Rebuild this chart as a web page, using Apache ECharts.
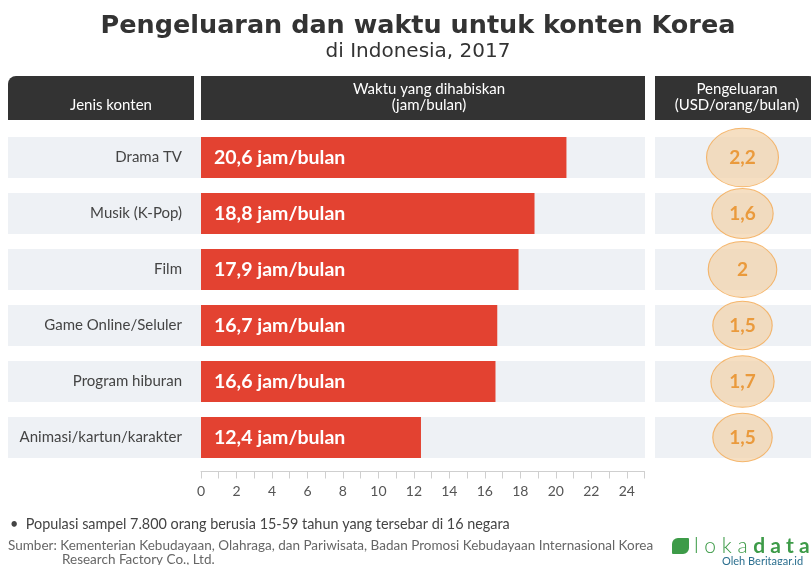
<!DOCTYPE html>
<html lang="id">
  <head>
    <meta charset="UTF-8" />
    <title>Pengeluaran dan waktu untuk konten Korea</title>
    <script src="https://cdn.jsdelivr.net/npm/echarts@6/dist/echarts.min.js"></script>
    <style>
      body {
        margin: 0;
        padding: 0;
        background: #fff;
      }

      #main {
        width: 811px;
        height: 565px;
      }
    </style>
  </head>

  <body>
    <div id="main"></div>
    <script>
      // data
      const categories = [
        "Drama TV",
        "Musik (K-Pop)",
        "Film",
        "Game Online/Seluler",
        "Program hiburan",
        "Animasi/kartun/karakter",
      ];
      const hours = [20.6, 18.8, 17.9, 16.7, 16.6, 12.4]; // jam/bulan
      const spending = [2.2, 1.6, 2, 1.5, 1.7, 1.5]; // USD/orang/bulan
      const bandValues = [1, 1, 1, 1, 1, 1]; // latar abu-abu tiap baris

      const fmt = (v) => String(v).replace(".", ",");
      const font = "Lato, 'Noto Sans', sans-serif";
      const titleFont = "'DejaVu Sans', sans-serif";
      const dark = "#333333";
      const band = "#eef1f5";

      const gridTop = 129.5;
      const gridHeight = 336;

      const hiddenCat = (gridIndex) => ({
        type: "category",
        gridIndex,
        inverse: true,
        data: categories,
        show: false,
      });
      const hiddenVal = (gridIndex) => ({
        type: "value",
        gridIndex,
        min: 0,
        max: 1,
        show: false,
      });

      const chart = echarts.init(document.getElementById("main"));

      chart.setOption({
        animation: false,
        textStyle: { fontFamily: font },
        title: {
          text: "Pengeluaran dan waktu untuk konten Korea",
          subtext: "di Indonesia, 2017",
          left: 413,
          textAlign: "center",
          top: 8,
          itemGap: 3,
          textStyle: {
            fontFamily: titleFont,
            fontSize: 25.5,
            fontWeight: "bold",
            color: dark,
          },
          subtextStyle: {
            fontFamily: titleFont,
            fontSize: 20,
            color: dark,
          },
        },
        grid: [
          { left: 8, width: 637, top: gridTop, height: gridHeight },
          { left: 201, width: 443.5, top: gridTop, height: gridHeight },
          { left: 655, right: 0, top: gridTop, height: gridHeight },
          { left: 674, width: 137, top: gridTop, height: gridHeight },
        ],
        xAxis: [
          hiddenVal(0),
          {
            type: "value",
            gridIndex: 1,
            min: 0,
            max: 25,
            interval: 1,
            offset: 6,
            axisLine: { show: true, lineStyle: { color: "#cfcfcf" } },
            axisTick: { show: true, length: 7, lineStyle: { color: "#cfcfcf" } },
            splitLine: { show: false },
            axisLabel: {
              color: "#555",
              fontSize: 14,
              margin: 13,
              formatter: (v) => (v % 2 === 0 && v <= 24 ? v : ""),
            },
          },
          hiddenVal(2),
          { type: "category", gridIndex: 3, data: ["USD"], show: false },
        ],
        yAxis: [
          hiddenCat(0),
          {
            type: "category",
            gridIndex: 1,
            inverse: true,
            data: categories,
            z: 5,
            axisLine: { show: false },
            axisTick: { show: false },
            axisLabel: { color: "#444", fontSize: 15, margin: 19 },
          },
          hiddenCat(2),
          hiddenCat(3),
        ],
        series: [
          {
            type: "bar",
            xAxisIndex: 0,
            yAxisIndex: 0,
            data: bandValues,
            barWidth: 41,
            itemStyle: { color: band },
            silent: true,
            z: 1,
          },
          {
            type: "bar",
            xAxisIndex: 2,
            yAxisIndex: 2,
            data: bandValues,
            barWidth: 41,
            itemStyle: { color: band },
            silent: true,
            z: 1,
          },
          {
            name: "Waktu",
            type: "bar",
            xAxisIndex: 1,
            yAxisIndex: 1,
            data: hours,
            barWidth: 41,
            itemStyle: { color: "#e34231" },
            z: 3,
            label: {
              show: true,
              position: "insideLeft",
              distance: 13,
              color: "#fff",
              fontSize: 19.5,
              fontWeight: "bold",
              formatter: (p) => fmt(p.value) + " jam/bulan",
            },
          },
          {
            name: "Pengeluaran",
            type: "scatter",
            xAxisIndex: 3,
            yAxisIndex: 3,
            clip: false,
            z: 4,
            data: spending.map((v, i) => [0, i, v]),
            symbol: "circle",
            symbolSize: (d) => [48.5 * Math.sqrt(d[2]), 39.5 * Math.sqrt(d[2])],
            itemStyle: {
              color: "rgba(242, 210, 170, 0.9)",
              borderColor: "#f4a84f",
              borderWidth: 1,
            },
            label: {
              show: true,
              position: "inside",
              color: "#e8891c",
              fontSize: 19,
              fontWeight: "bold",
              formatter: (p) => fmt(p.value[2]),
            },
          },
        ],
        graphic: [
          {
            type: "rect",
            shape: { x: 8, y: 76, width: 186, height: 44, r: [8, 0, 0, 0] },
            style: { fill: dark },
          },
          {
            type: "rect",
            shape: { x: 201, y: 76, width: 444, height: 44 },
            style: { fill: dark },
          },
          {
            type: "rect",
            shape: { x: 655, y: 76, width: 162, height: 44, r: [0, 8, 0, 0] },
            style: { fill: dark },
          },
          {
            type: "text",
            x: 111,
            y: 105,
            style: {
              text: "Jenis konten",
              fill: "#fff",
              font: "15px " + font,
              align: "center",
              verticalAlign: "middle",
            },
          },
          {
            type: "text",
            x: 429,
            y: 97,
            style: {
              text: "Waktu yang dihabiskan\n(jam/bulan)",
              fill: "#fff",
              font: "15px " + font,
              lineHeight: 16,
              align: "center",
              verticalAlign: "middle",
            },
          },
          {
            type: "text",
            x: 737,
            y: 97,
            style: {
              text: "Pengeluaran\n(USD/orang/bulan)",
              fill: "#fff",
              font: "15px " + font,
              lineHeight: 16,
              align: "center",
              verticalAlign: "middle",
            },
          },
          {
            type: "text",
            x: 10,
            y: 524,
            style: {
              text: "•  Populasi sampel 7.800 orang berusia 15-59 tahun yang tersebar di 16 negara",
              fill: "#444",
              font: "14.4px " + font,
              verticalAlign: "middle",
            },
          },
          {
            type: "text",
            x: 8,
            y: 546,
            style: {
              text: "Sumber: Kementerian Kebudayaan, Olahraga, dan Pariwisata, Badan Promosi Kebudayaan Internasional Korea",
              fill: "#666",
              font: "13.5px " + font,
              verticalAlign: "middle",
            },
          },
          {
            type: "text",
            x: 62,
            y: 560,
            style: {
              text: "Research Factory Co., Ltd.",
              fill: "#666",
              font: "13.5px " + font,
              verticalAlign: "middle",
            },
          },
          {
            type: "rect",
            shape: { x: 672, y: 538, width: 17, height: 16, r: [6, 1, 6, 1] },
            style: { fill: "#3d9b48" },
          },
          {
            type: "text",
            x: 694,
            y: 546,
            style: {
              text: "{a|l o k a }{b|d a t a}",
              verticalAlign: "middle",
              rich: {
                a: { fill: "#3d9b48", font: "300 21px " + font },
                b: { fill: "#3d9b48", font: "bold 21px " + font },
              },
            },
          },
          {
            type: "text",
            x: 722,
            y: 561,
            style: {
              text: "Oleh Beritagar.id",
              fill: "#2b6f8f",
              font: "11px " + font,
              verticalAlign: "middle",
            },
          },
        ],
      });
    </script>
  </body>
</html>
